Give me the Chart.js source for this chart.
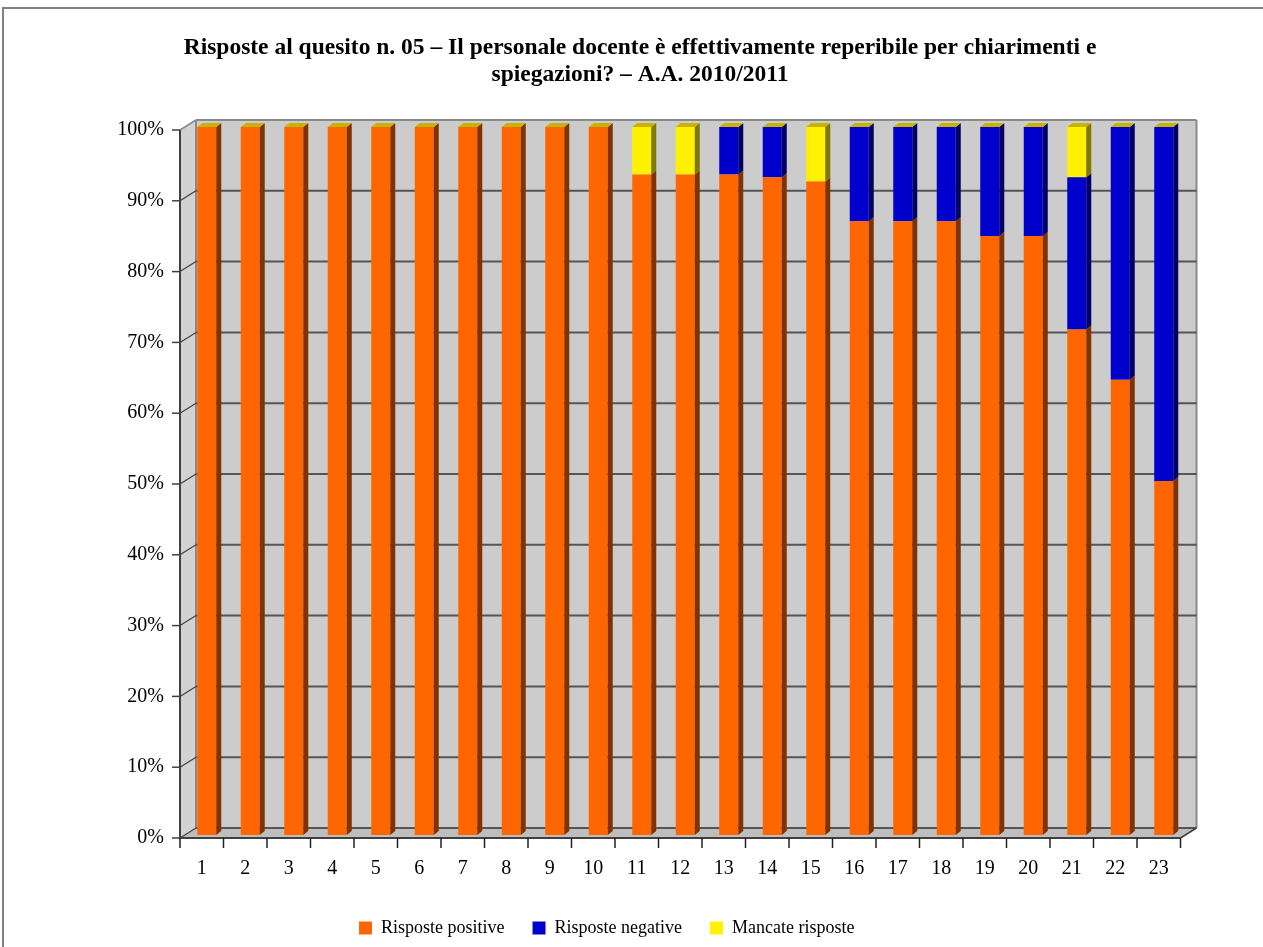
<!DOCTYPE html>
<html>
<head>
<meta charset="utf-8">
<script src="https://cdn.jsdelivr.net/npm/chart.js@4.4.0/dist/chart.umd.min.js"></script>
<style>
  body { margin: 0; background: #fff; }
  canvas { display: block; }
</style>
</head>
<body>
<canvas id="chartCanvas" width="1263" height="947"></canvas>
<script>
var labels = ['1','2','3','4','5','6','7','8','9','10','11','12','13','14','15','16','17','18','19','20','21','22','23'];
var positive = [100, 100, 100, 100, 100, 100, 100, 100, 100, 100, 93.3, 93.3, 93.3, 92.9, 92.3, 86.7, 86.7, 86.7, 84.6, 84.6, 71.4, 64.3, 50];
var negative = [0, 0, 0, 0, 0, 0, 0, 0, 0, 0, 0, 0, 6.7, 7.1, 0, 13.3, 13.3, 13.3, 15.4, 15.4, 21.5, 35.7, 50];
var missing = [0, 0, 0, 0, 0, 0, 0, 0, 0, 0, 6.7, 6.7, 0, 0, 7.7, 0, 0, 0, 0, 0, 7.1, 0, 0];

var seriesNames = ['Risposte positive', 'Risposte negative', 'Mancate risposte'];
var titleLines = [
    'Risposte al quesito n. 05 \u2013 Il personale docente è effettivamente reperibile per chiarimenti e',
    'spiegazioni? \u2013 A.A. 2010/2011'
];

var frontColors = ['#ff6600', '#0000cc', '#fff200'];
var sideColors = ['#803300', '#000066', '#807800'];
var topColor = '#c8b400';

var serif = '"Liberation Serif", "DejaVu Serif", serif';
Chart.defaults.font.family = serif;
Chart.defaults.color = '#000';

// depth of the walls and of the bars
var DX = 16, DY = -10;
var BX = 5, BY = -4;
// front axis sits a little left/below the bar plane
var AX = 5, AY = 3;

function poly(c, pts, fill) {
    c.beginPath();
    c.moveTo(pts[0][0], pts[0][1]);
    for (var i = 1; i < pts.length; i++) c.lineTo(pts[i][0], pts[i][1]);
    c.closePath();
    c.fillStyle = fill;
    c.fill();
}

function line(c, x1, y1, x2, y2, color, w) {
    c.beginPath();
    c.moveTo(x1, y1);
    c.lineTo(x2, y2);
    c.strokeStyle = color;
    c.lineWidth = w;
    c.stroke();
}

var frame = {
    id: 'frame',
    beforeDraw: function (chart) {
        var c = chart.ctx;
        c.save();
        c.fillStyle = '#fff';
        c.fillRect(0, 0, chart.width, chart.height);
        c.strokeStyle = '#808080';
        c.lineWidth = 2;
        c.strokeRect(3, 8, chart.width + 20, chart.height + 20);
        c.fillStyle = '#000';
        c.font = 'bold 23.5px ' + serif;
        c.textAlign = 'center';
        c.textBaseline = 'middle';
        titleLines.forEach(function (t, i) {
            c.fillText(t, 640, 48 + i * 27);
        });
        c.restore();
    },
    beforeDatasetsDraw: function (chart) {
        var c = chart.ctx;
        var x = chart.scales.x, y = chart.scales.y;
        var l = x.getPixelForValue(-0.5) - AX;
        var r = x.getPixelForValue(labels.length - 0.5) - AX;
        var b = y.getPixelForValue(0) + AY;
        var t = y.getPixelForValue(100) + AY;
        c.save();
        // back wall, left wall, floor
        c.fillStyle = '#cccccc';
        c.fillRect(l + DX, t + DY, r - l, b - t);
        poly(c, [[l, t], [l + DX, t + DY], [l + DX, b + DY], [l, b]], '#d2d2d2');
        poly(c, [[l, b], [l + DX, b + DY], [r + DX, b + DY], [r, b]], '#bebebe');
        line(c, l + DX, t + DY, r + DX, t + DY, '#8a8a8a', 2);
        line(c, r + DX, t + DY, r + DX, b + DY, '#8a8a8a', 2);
        line(c, l + DX, t + DY, l + DX, b + DY, '#8a8a8a', 2);
        line(c, l, t, l + DX, t + DY, '#8a8a8a', 1.5);
        // grid lines on the back wall
        y.ticks.forEach(function (tk) {
            var yy = y.getPixelForValue(tk.value) + AY;
            if (tk.value < 100) {
                line(c, l, yy, l + DX, yy + DY, '#404040', 1.2);
                line(c, l + DX, yy + DY, r + DX, yy + DY, '#555555', 2);
            }
            line(c, l - 8, yy, l, yy, '#404040', 1.5);
        });
        // front axes
        line(c, l, t, l, b, '#404040', 2);
        line(c, l, b, r, b, '#404040', 2);
        line(c, r, b, r + DX, b + DY, '#404040', 1.5);
        for (var i = 0; i <= labels.length; i++) {
            var xx = x.getPixelForValue(i - 0.5) - AX;
            line(c, xx, b, xx, b + 10, '#202020', 1.5);
        }
        c.restore();
    },
    afterDatasetsDraw: function (chart) {
        var c = chart.ctx;
        var y = chart.scales.y;
        c.save();
        chart.data.datasets.forEach(function (ds, di) {
            chart.getDatasetMeta(di).data.forEach(function (bar) {
                var p = bar.getProps(['x', 'y', 'base', 'width'], true);
                if (Math.abs(p.base - p.y) < 0.5) return;
                var right = p.x + p.width / 2;
                var top = Math.min(p.y, p.base), bottom = Math.max(p.y, p.base);
                poly(c, [[right, top], [right + BX, top + BY], [right + BX, bottom + BY], [right, bottom]], sideColors[di]);
            });
        });
        chart.getDatasetMeta(0).data.forEach(function (bar, i) {
            var p = bar.getProps(['x', 'width'], true);
            var tp = y.getPixelForValue(positive[i] + negative[i] + missing[i]);
            var left = p.x - p.width / 2, right = p.x + p.width / 2;
            poly(c, [[left, tp], [left + BX, tp + BY], [right + BX, tp + BY], [right, tp]], topColor);
        });
        c.restore();
    }
};

var ctx = document.getElementById('chartCanvas').getContext('2d');
var myChart = new Chart(ctx, {
    type: 'bar',
    data: {
        labels: labels,
        datasets: [
            { label: seriesNames[0], data: positive, backgroundColor: frontColors[0], borderWidth: 0 },
            { label: seriesNames[1], data: negative, backgroundColor: frontColors[1], borderWidth: 0 },
            { label: seriesNames[2], data: missing, backgroundColor: frontColors[2], borderWidth: 0 }
        ]
    },
    options: {
        responsive: false,
        animation: false,
        datasets: {
            bar: { categoryPercentage: 1, barPercentage: 0.437 }
        },
        layout: {
            padding: { left: 28, right: 77.5, top: 127, bottom: 0 }
        },
        scales: {
            x: {
                stacked: true,
                grid: { display: false },
                border: { display: false },
                ticks: { font: { size: 20 }, padding: 14, labelOffset: -AX, maxRotation: 0, autoSkip: false },
                afterFit: function (scale) { scale.height = 56; }
            },
            y: {
                stacked: true,
                min: 0,
                max: 100,
                grid: { display: false },
                border: { display: false },
                ticks: {
                    stepSize: 10,
                    font: { size: 20 },
                    padding: 13,
                    labelOffset: AY,
                    callback: function (v) { return v + '%'; }
                },
                afterFit: function (scale) { scale.width = 157; }
            }
        },
        plugins: {
            title: { display: false },
            tooltip: { enabled: false },
            legend: {
                position: 'bottom',
                labels: { boxWidth: 13, boxHeight: 13, font: { size: 18 }, padding: 28, color: '#000' }
            }
        }
    },
    plugins: [frame]
});
</script>
</body>
</html>
